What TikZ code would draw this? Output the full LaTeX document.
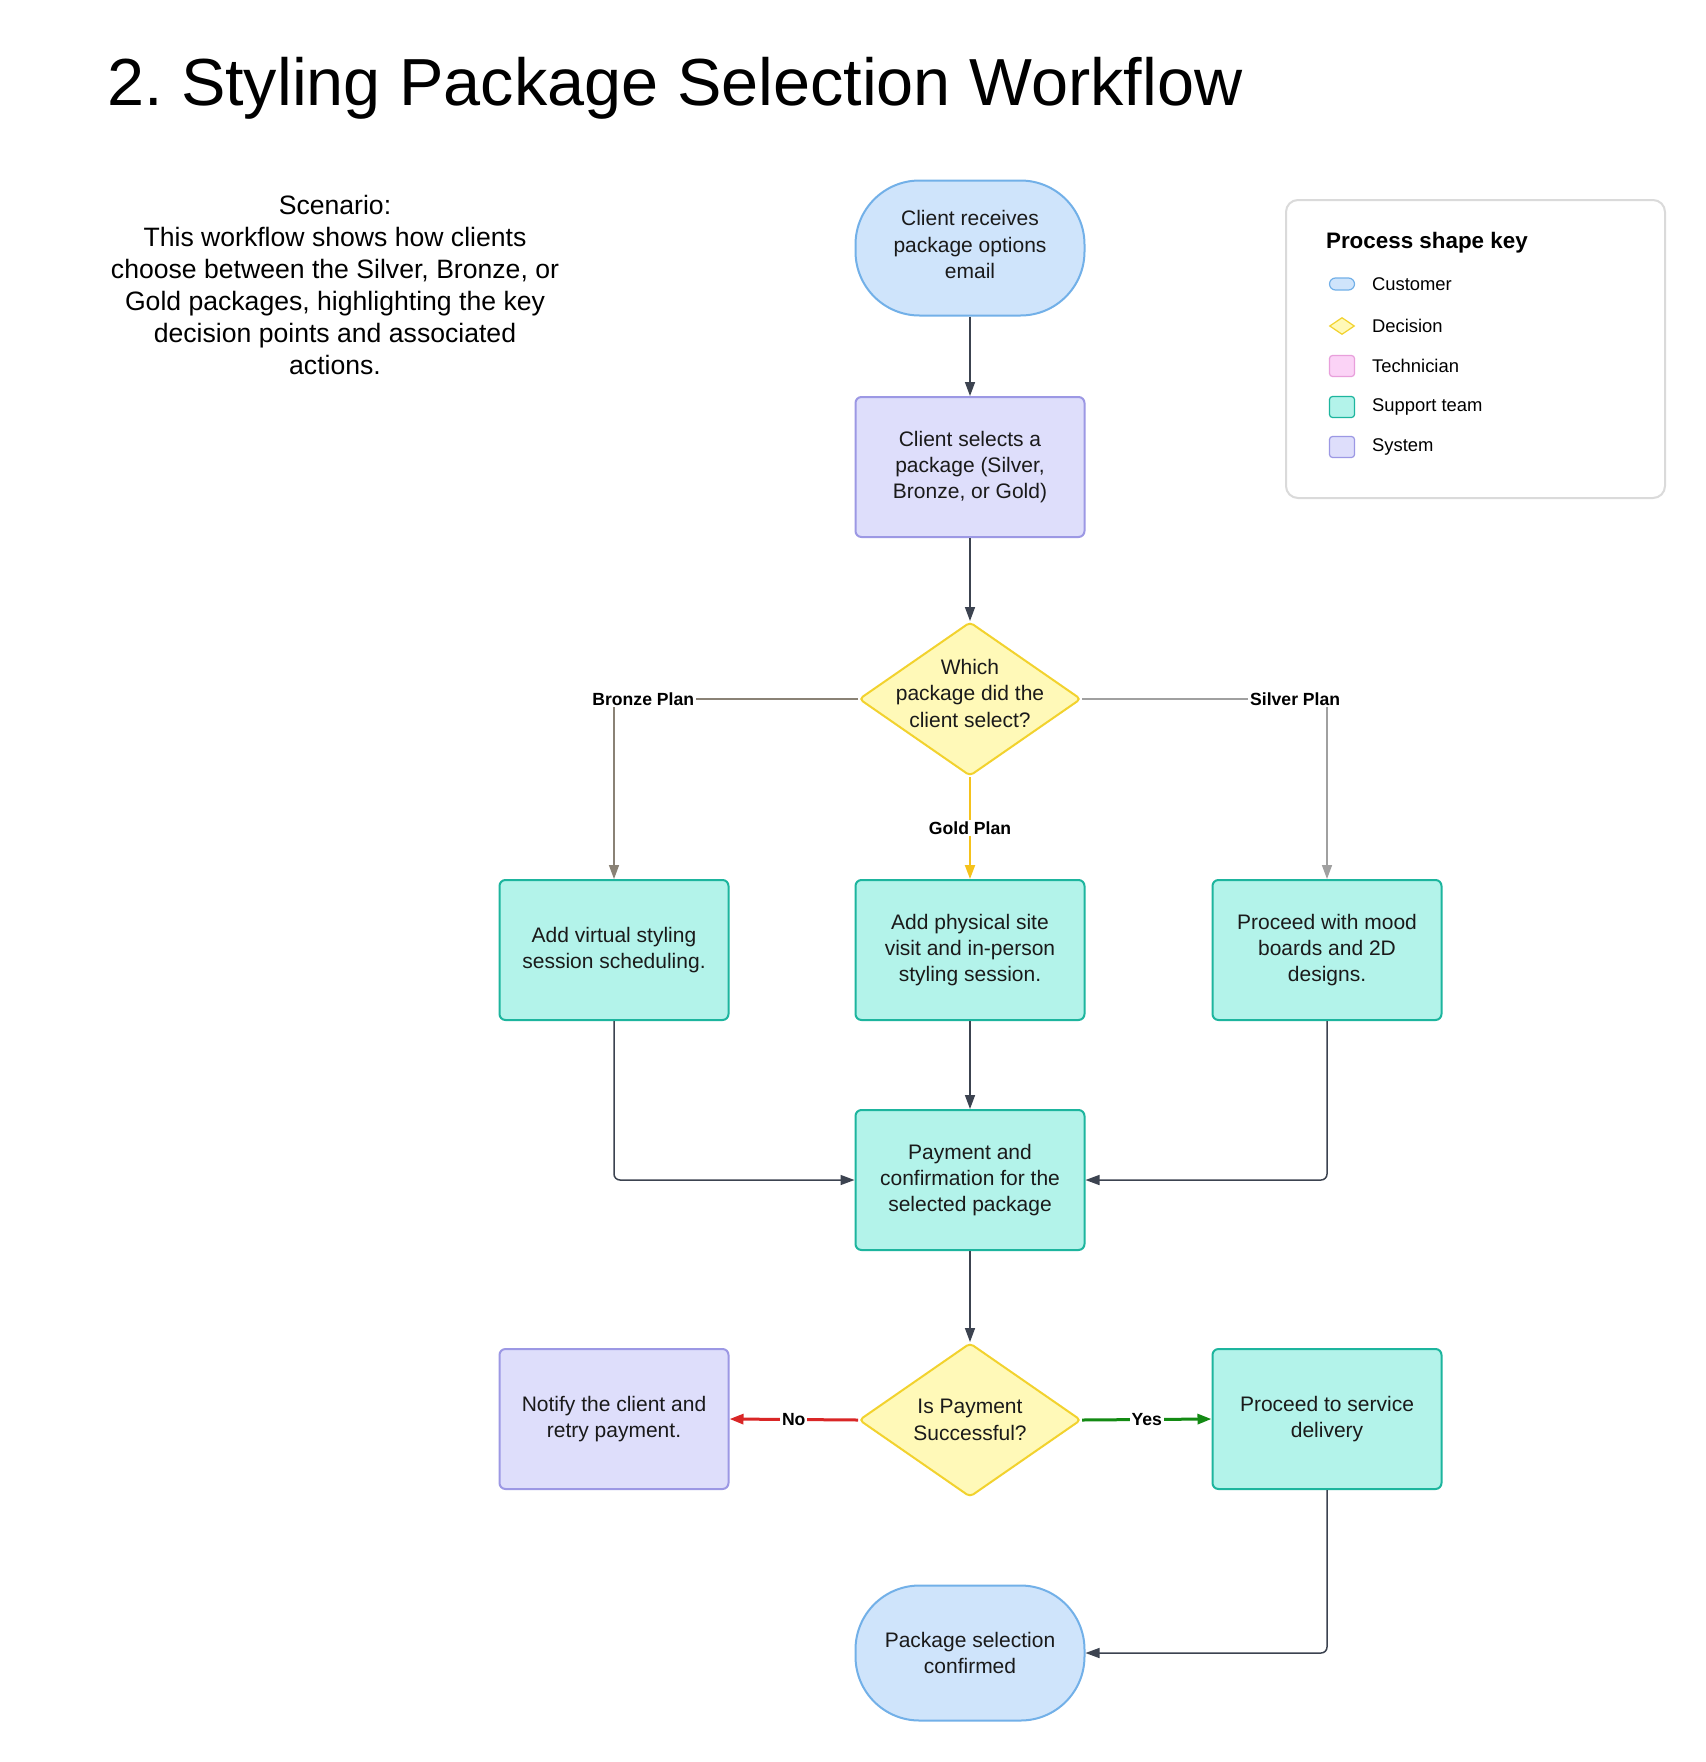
\documentclass[tikz,border=0pt]{standalone}
\usepackage{fontspec}
\setmainfont{Liberation Sans}
\usepackage{xcolor}
\usetikzlibrary{
    arrows.meta,
    shapes.geometric,
    positioning
}
\frenchspacing
\definecolor{custfill}{HTML}{CFE4FB}
\definecolor{custdraw}{HTML}{72B0E8}
\definecolor{sysfill}{HTML}{DEDEFB}
\definecolor{sysdraw}{HTML}{9C98E4}
\definecolor{supfill}{HTML}{B3F3EA}
\definecolor{supdraw}{HTML}{1DB59E}
\definecolor{decfill}{HTML}{FFF9B8}
\definecolor{decdraw}{HTML}{F2D22E}
\definecolor{techfill}{HTML}{FBD3F6}
\definecolor{techdraw}{HTML}{E89FDB}
\definecolor{arrowcol}{HTML}{3C4350}
\definecolor{bronzeline}{HTML}{8A8276}
\definecolor{silverline}{HTML}{A0A0A0}
\definecolor{goldline}{HTML}{F5C21B}
\definecolor{noline}{HTML}{D92626}
\definecolor{yesline}{HTML}{138A13}
\definecolor{textcol}{HTML}{1A1A1A}
\definecolor{framecol}{HTML}{DADADA}
\tikzset
{
  boxtext/.style={align=center,text=textcol,font=\fontsize{10.5}{13.2}\selectfont},
  customer/.style={boxtext,draw=custdraw,fill=custfill,line width=1pt,rounded corners=32pt,minimum width=114.5pt,minimum height=67.5pt},
  system/.style={boxtext,draw=sysdraw,fill=sysfill,line width=1pt,rounded corners=3pt,minimum width=114.5pt,minimum height=70pt},
  support/.style={boxtext,draw=supdraw,fill=supfill,line width=1pt,rounded corners=3pt,minimum width=114.5pt,minimum height=70pt},
  decision/.style={boxtext,shape=diamond,draw=decdraw,fill=decfill,line width=1pt,rounded corners=2pt,aspect=1.44,inner sep=-6pt,minimum width=111pt,minimum height=77pt},
  flow/.style={draw=arrowcol,line width=0.75pt,-{Triangle[length=7pt,width=5pt]}},
  edgelabel/.style={fill=white,inner sep=1pt,text=black,font=\bfseries\fontsize{8.8}{10}\selectfont},
  keylabel/.style={anchor=west,text=black,font=\fontsize{9.2}{11}\selectfont},
  keycust/.style={draw=custdraw,fill=custfill,line width=0.6pt,rounded corners=3pt,minimum width=12.5pt,minimum height=6pt,inner sep=0pt},
  keydec/.style={shape=diamond,draw=decdraw,fill=decfill,line width=0.6pt,minimum width=12.5pt,minimum height=8.5pt,inner sep=0pt},
  keytech/.style={draw=techdraw,fill=techfill,line width=0.6pt,rounded corners=1.5pt,minimum width=12.5pt,minimum height=10.5pt,inner sep=0pt},
  keysup/.style={draw=supdraw,fill=supfill,line width=0.6pt,rounded corners=1.5pt,minimum width=12.5pt,minimum height=10.5pt,inner sep=0pt},
  keysys/.style={draw=sysdraw,fill=sysfill,line width=0.6pt,rounded corners=1.5pt,minimum width=12.5pt,minimum height=10.5pt,inner sep=0pt}
}

\begin{document}
\begin{tikzpicture}[x=0.5pt,y=-0.5pt]
        % Page
        \fill[white] (0,0) rectangle (1705,1762);
        \useasboundingbox (0,0) rectangle (1705,1762);

        % Title and scenario
        \node[anchor=base west,font=\fontsize{33.3}{40}\selectfont] (title) at (100,105) {2. Styling Package Selection Workflow};
        \node[align=center,font=\fontsize{13.3}{16}\selectfont] (scenario) at (335,285)
            {Scenario:\\This workflow shows how clients\\choose between the Silver, Bronze, or\\Gold packages, highlighting the key\\decision points and associated\\actions.};

        % Shapes
        \node[customer,text depth=3.5pt] (start) at (970,248) {Client receives\\package options\\email};
        \node[system] (select) at (970,467) {Client selects a\\package (Silver,\\Bronze, or Gold)};
        \node[decision,text depth=6pt] (which) at (970,699) {Which\\package did the\\client select?};
        \node[support] (virtual) at (614,950) {Add virtual styling\\session scheduling.};
        \node[support] (site) at (970,950) {Add physical site\\visit and in-person\\styling session.};
        \node[support] (mood) at (1327,950) {Proceed with mood\\boards and 2D\\designs.};
        \node[support] (payment) at (970,1180) {Payment and\\confirmation for the\\selected package};
        \node[decision] (paid) at (970,1420) {Is Payment\\Successful?};
        \node[system] (retry) at (614,1419) {Notify the client and\\retry payment.};
        \node[support] (delivery) at (1327,1419) {Proceed to service\\delivery};
        \node[customer] (confirmed) at (970,1653) {Package selection\\confirmed};

        % Connectors
        \draw[flow] (start) -- (select);
        \draw[flow] (select) -- (which);
        \draw[flow,draw=bronzeline] (which.west) -| node[edgelabel,pos=0.44] {Bronze Plan} (virtual.north);
        \draw[flow,draw=goldline,line width=1pt] (which.south) -- node[edgelabel] {Gold Plan} (site.north);
        \draw[flow,draw=silverline] (which.east) -| node[edgelabel,pos=0.435] {Silver Plan} (mood.north);
        \draw[flow,rounded corners=3pt] (virtual.south) |- (payment.west);
        \draw[flow] (site) -- (payment);
        \draw[flow,rounded corners=3pt] (mood.south) |- (payment.east);
        \draw[flow] (payment) -- (paid);
        \draw[flow,draw=noline,line width=1.5pt] (paid.west) -- node[edgelabel] {No} (retry.east);
        \draw[flow,draw=yesline,line width=1.5pt] (paid.east) -- node[edgelabel] {Yes} (delivery.west);
        \draw[flow,rounded corners=3pt] (delivery.south) |- (confirmed.east);

        % Shape key
        \draw[framecol,line width=1pt,rounded corners=6pt] (1286,200) rectangle (1665,498);
        \node[anchor=west,font=\bfseries\fontsize{11.2}{13}\selectfont] (keytitle) at (1319,243) {Process shape key};
        \foreach \sty/\txt/\yy [count=\i] in {keycust/Customer/284,keydec/Decision/326,keytech/Technician/366,keysup/Support team/407,keysys/System/447}
        {
            \node[\sty] (icon\i) at (1342,\yy) {};
            \node[keylabel] (key\i) at (1365,\yy) {\txt};
        }
    \end{tikzpicture}
\end{document}
